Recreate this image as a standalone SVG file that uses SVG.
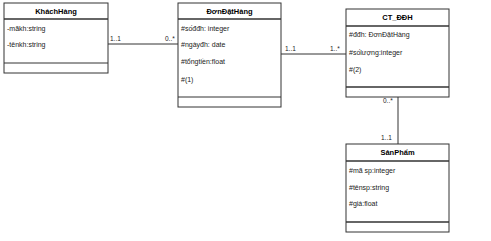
<svg xmlns="http://www.w3.org/2000/svg" width="491" height="241" viewBox="0 0 491 241">
<style>
.box{fill:#fff;stroke:#333;stroke-width:1}
.sep{stroke:#333;stroke-width:1}
.hsep{stroke:#333;stroke-width:1.5}
.t{font-family:"Liberation Sans",Arial,sans-serif;font-size:7.5px;font-weight:bold;fill:#000;text-anchor:middle}
.a{font-family:"Liberation Sans",Arial,sans-serif;font-size:7px;fill:#222}
.m{font-family:"Liberation Sans",Arial,sans-serif;font-size:6.5px;fill:#222}
.c{stroke:#333;stroke-width:1;fill:none}
</style>
<rect width="491" height="241" fill="#fff"/>
<g id="connectors">
<line class="c" x1="108" y1="44" x2="178" y2="44"/>
<text class="m" x="110" y="41">1..1</text>
<text class="m" x="165" y="41">0..*</text>
<line class="c" x1="281" y1="54" x2="346" y2="54"/>
<text class="m" x="285" y="51">1..1</text>
<text class="m" x="330" y="51">1..*</text>
<line class="c" x1="398" y1="97" x2="398" y2="144"/>
<text class="m" x="383" y="103">0..*</text>
<text class="m" x="381" y="140">1..1</text>
</g>
<g id="KhachHang">
<rect class="box" x="4" y="3" width="104" height="70"/>
<line class="hsep" x1="4" y1="19" x2="108" y2="19"/>
<line class="sep" x1="4" y1="63" x2="108" y2="63"/>
<text class="t" x="56" y="14">KháchHàng</text>
<text class="a" x="7" y="31">-mãkh:string</text>
<text class="a" x="7" y="47">-tênkh:string</text>
</g>
<g id="DonDatHang">
<rect class="box" x="178" y="3" width="103" height="104"/>
<line class="hsep" x1="178" y1="19" x2="281" y2="19"/>
<line class="sep" x1="178" y1="97" x2="281" y2="97"/>
<text class="t" x="229.5" y="14">ĐơnĐặtHàng</text>
<text class="a" x="181" y="31">#sốđđh: integer</text>
<text class="a" x="181" y="47">#ngàyđh: date</text>
<text class="a" x="181" y="64">#tổngtiền:float</text>
<text class="a" x="181" y="82">#(1)</text>
</g>
<g id="CT_DDH">
<rect class="box" x="346" y="9" width="103" height="88"/>
<line class="hsep" x1="346" y1="26" x2="449" y2="26"/>
<line class="hsep" x1="346" y1="87" x2="449" y2="87"/>
<text class="t" x="397.5" y="20">CT_ĐĐH</text>
<text class="a" x="349" y="37">#đđh: ĐơnĐặtHàng</text>
<text class="a" x="349" y="55">#sốlượng:integer</text>
<text class="a" x="349" y="72">#(2)</text>
</g>
<g id="SanPham">
<rect class="box" x="346" y="144" width="103" height="88"/>
<line class="hsep" x1="346" y1="161" x2="449" y2="161"/>
<line class="hsep" x1="346" y1="222" x2="449" y2="222"/>
<text class="t" x="397.5" y="155">SảnPhẩm</text>
<text class="a" x="349" y="173">#mã sp:integer</text>
<text class="a" x="349" y="190">#tênsp:string</text>
<text class="a" x="349" y="206">#giá:float</text>
</g>
</svg>
